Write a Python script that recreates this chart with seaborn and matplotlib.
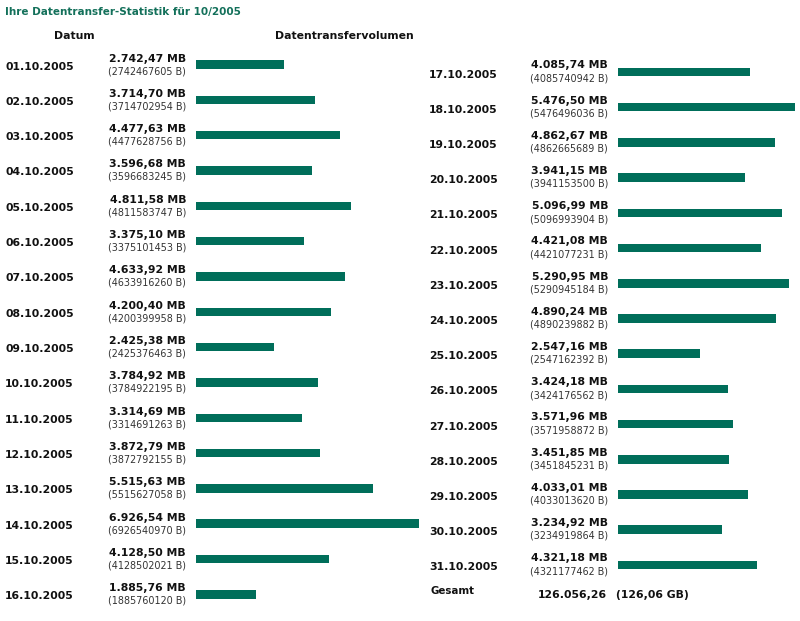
import matplotlib
matplotlib.use("Agg")
import matplotlib.pyplot as plt
import matplotlib.transforms as mtransforms
import seaborn as sns
import pandas as pd

# ---------------- data ----------------
dates_left = ["01.10.2005", "02.10.2005", "03.10.2005", "04.10.2005", "05.10.2005",
              "06.10.2005", "07.10.2005", "08.10.2005", "09.10.2005", "10.10.2005",
              "11.10.2005", "12.10.2005", "13.10.2005", "14.10.2005", "15.10.2005",
              "16.10.2005"]
mb_left = [2742.47, 3714.70, 4477.63, 3596.68, 4811.58, 3375.10, 4633.92, 4200.40,
           2425.38, 3784.92, 3314.69, 3872.79, 5515.63, 6926.54, 4128.50, 1885.76]
bytes_left = [2742467605, 3714702954, 4477628756, 3596683245, 4811583747, 3375101453,
              4633916260, 4200399958, 2425376463, 3784922195, 3314691263, 3872792155,
              5515627058, 6926540970, 4128502021, 1885760120]

dates_right = ["17.10.2005", "18.10.2005", "19.10.2005", "20.10.2005", "21.10.2005",
               "22.10.2005", "23.10.2005", "24.10.2005", "25.10.2005", "26.10.2005",
               "27.10.2005", "28.10.2005", "29.10.2005", "30.10.2005", "31.10.2005"]
mb_right = [4085.74, 5476.50, 4862.67, 3941.15, 5096.99, 4421.08, 5290.95, 4890.24,
            2547.16, 3424.18, 3571.96, 3451.85, 4033.01, 3234.92, 4321.18]
bytes_right = [4085740942, 5476496036, 4862665689, 3941153500, 5096993904, 4421077231,
               5290945184, 4890239882, 2547162392, 3424176562, 3571958872, 3451845231,
               4033013620, 3234919864, 4321177462]

title = "Ihre Datentransfer-Statistik für 10/2005"
header_date = "Datum"
header_volume = "Datentransfervolumen"
total_label = "Gesamt"
total_mb = "126.056,26"
total_gb = "(126,06 GB)"

# ---------------- styling ----------------
W, H = 800, 621
BAR_COLOR = "#006E5A"
TITLE_COLOR = "#13705A"
SCALE = 223.5 / 6926.54  # pixels per MB


def fmt_mb(v):
    s = f"{v:,.2f}"
    s = s.replace(",", "X").replace(".", ",").replace("X", ".")
    return s + " MB"


sns.set_theme(style="white")
plt.rcParams["font.family"] = ["DejaVu Sans"]

fig = plt.figure(figsize=(W / 100, H / 100), dpi=100)
fig.patch.set_facecolor("white")


def column(dates, mb, byt, bar_x0, first_y, step, date_x, label_x, dy_date, dy_mb, dy_b):
    ax = fig.add_axes([0, 0, 1, 1])
    ax.patch.set_alpha(0)
    df = pd.DataFrame({"date": dates, "mb": mb})
    sns.barplot(data=df, x="mb", y="date", orient="h", color=BAR_COLOR,
                saturation=1, width=8.6 / step, linewidth=0, ax=ax)
    ax.set_xlim(-bar_x0 / SCALE, (W - bar_x0) / SCALE)
    ax.set_ylim((H - first_y) / step, -first_y / step)
    ax.axis("off")
    tr = mtransforms.blended_transform_factory(fig.transFigure, ax.transData)
    for i, (d, m, b) in enumerate(zip(dates, mb, byt)):
        ax.text(date_x / W, i + dy_date / step, d, transform=tr, ha="left", va="center",
                fontsize=7.8, fontweight="bold", color="#111111")
        ax.text(label_x / W, i + dy_mb / step, fmt_mb(m), transform=tr, ha="right",
                va="center", fontsize=7.8, fontweight="bold", color="#111111")
        ax.text(label_x / W, i + dy_b / step, f"({b} B)", transform=tr, ha="right",
                va="center", fontsize=6.9, color="#333333")
    return ax, tr


axL, trL = column(dates_left, mb_left, bytes_left, 195.5, 64.5, 35.33, 5, 186, 2, -6, 6.5)
axR, trR = column(dates_right, mb_right, bytes_right, 618, 72, 35.2, 429, 608, 2.5, -6.5, 6.3)

# totals row
fig.text(431 / W, 1 - 591 / H, total_label, ha="left", va="center",
         fontsize=7.4, fontweight="bold", color="#111111")
fig.text(607 / W, 1 - 595 / H, total_mb, ha="right", va="center",
         fontsize=7.8, fontweight="bold", color="#111111")
fig.text(616 / W, 1 - 595 / H, total_gb, ha="left", va="center",
         fontsize=7.8, fontweight="bold", color="#111111")

# title and headers
fig.text(5 / W, 1 - 12 / H, title, ha="left", va="center",
         fontsize=7.5, fontweight="bold", color=TITLE_COLOR)
fig.text(74 / W, 1 - 36 / H, header_date, ha="center", va="center",
         fontsize=7.8, fontweight="bold", color="#111111")
fig.text(344 / W, 1 - 36 / H, header_volume, ha="center", va="center",
         fontsize=7.8, fontweight="bold", color="#111111")

fig.savefig("out.png", dpi=100, facecolor="white")
